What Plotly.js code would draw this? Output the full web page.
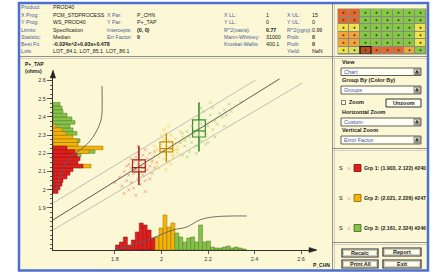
<!DOCTYPE html>
<html><head><meta charset="utf-8">
<script src="https://cdn.plot.ly/plotly-3.0.1.min.js"></script>
<style>html,body{margin:0;padding:0;background:#fff;}#chart{width:434px;height:274px;}</style>
</head><body><div id="chart"></div>
<script>
// ---------------- DATA ----------------
const xTickVals = [1.8, 2, 2.2, 2.4, 2.6];
const xTickText = ['1.8', '2', '2.2', '2.4', '2.6'];
const yTickVals = [1.9, 2, 2.1, 2.2, 2.3, 2.4, 2.5, 2.6];
const yTickText = ['1.9', '2', '2.1', '2.2', '2.3', '2.4', '2.5', '2.6'];

const groupNames = ['Grp 1: (1.903, 2.122) #240', 'Grp 2: (2.021, 2.226) #247', 'Grp 3: (2.161, 2.324) #246'];

// scatter clouds (P_CHN, P+_TAP)
const redX = [1.80,1.82,1.83,1.84,1.85,1.85,1.86,1.86,1.87,1.87,1.88,1.88,1.88,1.89,1.89,1.90,1.90,1.90,1.91,1.91,1.91,1.92,1.92,1.92,1.93,1.93,1.93,1.94,1.94,1.95,1.95,1.96,1.96,1.97,1.97,1.98,1.84,1.87,1.90,1.93,1.86,1.89,1.95,1.91,1.88];
const redY = [2.04,2.07,2.02,2.10,2.05,2.13,2.08,2.00,2.12,2.04,2.15,2.09,2.01,2.11,2.18,2.06,2.14,2.20,2.10,2.16,2.03,2.12,2.19,2.08,2.14,2.22,2.05,2.11,2.17,2.13,2.20,2.09,2.16,2.12,2.21,2.15,1.98,2.17,2.24,1.99,2.14,1.97,2.06,2.13,2.10];
const yelX = [1.96,1.97,1.98,1.98,1.99,2.00,2.00,2.01,2.01,2.02,2.02,2.02,2.03,2.03,2.03,2.04,2.04,2.05,2.05,2.06,2.06,2.07,2.08,2.09,2.10,1.99,2.01,2.04,2.07,2.00,2.03,2.05,2.02,1.97,2.08];
const yelY = [2.15,2.19,2.22,2.13,2.18,2.21,2.25,2.17,2.28,2.20,2.24,2.31,2.16,2.23,2.27,2.21,2.30,2.19,2.25,2.22,2.28,2.24,2.26,2.29,2.27,2.12,2.33,2.14,2.20,2.30,2.35,2.18,2.11,2.24,2.32];
const grnX = [2.07,2.08,2.09,2.10,2.10,2.11,2.12,2.12,2.13,2.13,2.14,2.14,2.15,2.15,2.16,2.16,2.17,2.17,2.18,2.18,2.19,2.19,2.20,2.20,2.21,2.22,2.22,2.23,2.24,2.25,2.26,2.27,2.28,2.29,2.30,2.32,2.34,2.11,2.15,2.19,2.23,2.27,2.17,2.21,2.09];
const grnY = [2.22,2.26,2.19,2.28,2.24,2.32,2.21,2.29,2.35,2.26,2.31,2.38,2.24,2.33,2.29,2.40,2.27,2.36,2.32,2.43,2.30,2.38,2.35,2.26,2.41,2.33,2.45,2.38,2.36,2.42,2.40,2.44,2.41,2.47,2.43,2.46,2.48,2.18,2.20,2.25,2.29,2.35,2.45,2.48,2.31];

// box statistics per group
const boxX      = [1.903, 2.021, 2.161];
const boxQ1     = [2.098, 2.208, 2.290];
const boxMedian = [2.122, 2.226, 2.324];
const boxQ3     = [2.164, 2.263, 2.384];
const boxLow    = [2.026, 2.153, 2.210];
const boxHigh   = [2.240, 2.307, 2.480];

// best fit line and bands
const fitX = [1.534, 2.507];   const fitY = [1.834, 2.609];
const upX  = [1.534, 2.404];   const upY  = [1.927, 2.603];
const loX  = [1.534, 2.606];   const loY  = [1.779, 2.587];

// Y histogram (P+_TAP), counts per bin
const yHistBins = [1.99,2.01,2.03,2.05,2.07,2.09,2.11,2.13,2.15,2.17,2.19,2.21,2.23,2.25,2.27,2.29,2.31,2.33,2.35,2.37,2.39,2.41,2.43,2.45,2.47];
const yHistRed  = [5,7,9,10,14,17,20,30,25,27,24,22,14,0,0,0,0,0,0,0,0,0,0,0,0];
const yHistYel  = [0,0,0,0,0,0,0,38,0,0,0,36,50,25,24,20,13,9,3,0,0,0,0,0,0];
const yHistGrn  = [0,0,0,0,0,0,0,0,0,0,28,42,20,25,27,19,24,20,17,22,19,14,10,9,7];
// cumulative curve for Y histogram
const yCdfCount = [49,49,48,46,42,37,31,24,17,11,7,4];
const yCdfY     = [2.570,2.427,2.384,2.351,2.307,2.268,2.235,2.208,2.175,2.131,2.076,2.010];

// X histogram (P_CHN), counts per bin
const xHistRedBins = [1.811,1.828,1.845,1.862,1.879,1.896,1.913,1.930,1.947,1.964];
const xHistRed     = [5,8,13,5,10,18,27,25,20,12];
const xHistYelBins = [1.981,1.998,2.015,2.032,2.049];
const xHistYel     = [13,22,35,23,27];
const xHistGrnBins = [2.066,2.083,2.100,2.117,2.134,2.151,2.168,2.185,2.202,2.219,2.236,2.253,2.270,2.287,2.304,2.321,2.338,2.355];
const xHistGrn     = [17,13,8,12,13,8,25,8,9,3,2,2,3,4,2,3,2,1];
// cumulative curve for X histogram
const xCdfX     = [1.800,1.877,1.963,2.049,2.109,2.164,2.220,2.306,2.366];
const xCdfCount = [0,5,12,20,23,30,33,34,34];

// wafer map codes: 0 orange-red,1 orange,2 yellow,3 green,4 dark red,5 light yellow
const waferCodes = [
  [0,0,3,3,3,3,3,3],
  [0,0,3,3,3,3,3,3],
  [2,2,3,3,3,3,3,2],
  [1,1,3,3,3,3,3,2],
  [1,1,3,3,3,3,3,2],
  [2,5,4,0,0,0,1,3]
];

// header info
const headerRows = [
  ['Product:', 'PROD40', '', '', '', '', '', ''],
  ['X Prog:', 'PCM_STDPROCESS', 'X Par:', 'P_CHN', 'X LL:', '1', 'X UL:', '15'],
  ['Y Prog:', 'WS_PROD40', 'Y Par:', 'P+_TAP', 'Y LL:', '0', 'Y UL:', '0'],
  ['Limits:', 'Specification', 'Intercepts:', '<b>(0, 0)</b>', 'R^2(xaxis):', '<b>0.77</b>', 'R^2(ygrp):', '0.99'],
  ['Statistic:', 'Median', 'Err Factor:', '<b>0</b>', 'Mann-Whitney:', '31000', 'Prob:', '<b>0</b>'],
  ['Best Fit:', '<b>-0.024x^2+0.93x+0.478</b>', '', '', 'Kruskal-Wallis:', '400.1', 'Prob:', '<b>0</b>'],
  ['Lots:', 'LOT_84.1, LOT_85.1, LOT_86.1', '', '', '', '', 'Yield:', 'NaN']
];

// ---------------- STYLE ----------------
const W = 434, H = 274;
const F = 'Liberation Sans, Arial, sans-serif';
const RED = '#e01e1e', RED_D = '#8a1010';
const YEL = '#f2b40a', YEL_D = '#9a6c00';
const GRN = '#86c24a', GRN_D = '#4a7a22';
const CREAM = '#fcf8d6';
const X0 = 53, X1 = 316, YB = 250, YT = 72;

const traces = [];
function nz(bins, vals) { const b = [], v = []; bins.forEach((p, i) => { if (vals[i] > 0) { b.push(p); v.push(vals[i]); } }); return [b, v]; }

// regression lines
traces.push({type:'scatter', mode:'lines', x:upX, y:upY, line:{color:'#b8b8b0', width:0.9}, hoverinfo:'skip'});
traces.push({type:'scatter', mode:'lines', x:loX, y:loY, line:{color:'#b8b8b0', width:0.9}, hoverinfo:'skip'});
traces.push({type:'scatter', mode:'lines', x:fitX, y:fitY, line:{color:'#5a5a5a', width:1}, hoverinfo:'skip'});

// scatter clouds
[[redX, redY, 'rgba(232,90,70,0.5)'], [yelX, yelY, 'rgba(245,190,50,0.55)'], [grnX, grnY, 'rgba(130,200,90,0.55)']].forEach(([x, y, c]) => {
  traces.push({type:'scatter', mode:'markers', x, y, marker:{symbol:'x-thin', size:3, line:{color:c, width:0.9}}, hoverinfo:'skip'});
});

// whiskers & boxes
const boxCol = ['#a41c1c', '#c08a00', '#3c8a30'];
boxX.forEach((bx, i) => {
  traces.push({type:'scatter', mode:'lines', x:[bx, bx], y:[boxLow[i], boxHigh[i]], line:{color:boxCol[i], width:1}, hoverinfo:'skip'});
  traces.push({type:'box', x:[bx], q1:[boxQ1[i]], median:[boxMedian[i]], q3:[boxQ3[i]], lowerfence:[boxLow[i]], upperfence:[boxHigh[i]],
    width:0.055, whiskerwidth:0, line:{color:boxCol[i], width:1.2}, fillcolor:'rgba(0,0,0,0)', boxpoints:false, hoverinfo:'skip'});
});

// Y histogram on x2
[[yHistGrn, GRN, GRN_D], [yHistYel, YEL, YEL_D], [yHistRed, RED, RED_D]].forEach(([v, c, d]) => {
  const [b, vv] = nz(yHistBins, v);
  traces.push({type:'bar', orientation:'h', y:b, x:vv, xaxis:'x2', yaxis:'y', width:0.02, marker:{color:c, line:{color:d, width:0.5}}, hoverinfo:'skip'});
});
traces.push({type:'scatter', mode:'lines', x:yCdfCount, y:yCdfY, xaxis:'x2', yaxis:'y', line:{color:'#606060', width:0.9, shape:'spline'}, hoverinfo:'skip'});

// X histogram on y2
[[xHistRedBins, xHistRed, RED, RED_D], [xHistYelBins, xHistYel, YEL, YEL_D], [xHistGrnBins, xHistGrn, GRN, GRN_D]].forEach(([b, v, c, d]) => {
  traces.push({type:'bar', x:b, y:v, xaxis:'x', yaxis:'y2', width:0.017, marker:{color:c, line:{color:d, width:0.5}}, hoverinfo:'skip'});
});
traces.push({type:'scatter', mode:'lines', x:xCdfX, y:xCdfCount, xaxis:'x', yaxis:'y2', line:{color:'#606060', width:0.9, shape:'spline'}, hoverinfo:'skip'});

// wafer map
const wcols = ['#e8662c', '#f4a43a', '#f0e24a', '#84c843', '#c44a18', '#d8e060'];
const cs = []; wcols.forEach((c, i) => { cs.push([i / 6, c]); cs.push([(i + 1) / 6, c]); });
traces.push({type:'heatmap', z:waferCodes, xaxis:'x3', yaxis:'y3', colorscale:cs, zmin:-0.5, zmax:5.5, showscale:false, xgap:1, ygap:1, hoverinfo:'skip'});
const dx = [], dy = [];
waferCodes.forEach((row, r) => row.forEach((_, c) => { dx.push(c); dy.push(r); }));
traces.push({type:'scatter', mode:'markers', x:dx, y:dy, xaxis:'x3', yaxis:'y3', marker:{size:2, color:'#2a4a1a'}, hoverinfo:'skip'});

// ---------------- SHAPES ----------------
const shapes = [];
const R = (x0, y0, x1, y1, fill, lc, lw, layer) => shapes.push({type:'rect', xref:'paper', yref:'paper', x0:x0 / W, x1:x1 / W, y0:1 - y1 / H, y1:1 - y0 / H,
  fillcolor:fill || 'rgba(0,0,0,0)', line:{color:lc || 'rgba(0,0,0,0)', width:lw || 0}, layer:layer || 'above'});
const L = (x0, y0, x1, y1, c, w) => shapes.push({type:'line', xref:'paper', yref:'paper', x0:x0 / W, x1:x1 / W, y0:1 - y0 / H, y1:1 - y1 / H, line:{color:c, width:w}, layer:'above'});
const P = (pts, fill) => shapes.push({type:'path', xref:'paper', yref:'paper', path:pts.map((p, i) => (i ? 'L' : 'M') + (p[0] / W) + ',' + (1 - p[1] / H)).join(' ') + ' Z', fillcolor:fill, line:{color:fill, width:0.5}, layer:'above'});

R(19, 3, 428, 270, CREAM, null, 0, 'below');
R(337.5, 8.5, 426.5, 54.5, '#8a8a80', null, 0, 'below');
// dividers
L(19, 56.5, 428, 56.5, '#8e8e8a', 1); L(19, 58.5, 428, 58.5, '#cfcfc4', 1);
L(332.5, 3, 332.5, 270, '#8e8e8a', 1); L(334.5, 3, 334.5, 270, '#cfcfc4', 1);
L(333, 148.5, 428, 148.5, '#8e8e8a', 1); L(333, 150.5, 428, 150.5, '#cfcfc4', 1);
L(333, 242.5, 428, 242.5, '#8e8e8a', 1); L(333, 244.5, 428, 244.5, '#cfcfc4', 1);
// frame
R(19, 3, 428, 270.5, null, '#4d6fd2', 2.5);
// axis arrows
P([[X0, 70], [X0 - 2.6, 78], [X0 + 2.6, 78]], '#222');
P([[X1 + 1, YB], [X1 - 7, YB - 2.6], [X1 - 7, YB + 2.6]], '#222');
// selected wafer cell
shapes.push({type:'rect', xref:'x3', yref:'y3', x0:1.5, x1:2.5, y0:4.5, y1:5.5, line:{color:'#111', width:1.2}, layer:'above'});
// dropdowns
[[68, 75.5], [86, 94], [118, 126], [136, 144]].forEach(([a, b]) => {
  R(341, a, 421, b, '#fffef2', '#3a3a3a', 0.8);
  R(414, a + 1, 420, b - 1, '#ece8d6', '#3a3a3a', 0.6);
  P([[415.3, a + 4.6], [417, a + 2.2], [418.7, a + 4.6]], '#222');
  L(415.3, b - 2.2, 418.7, b - 2.2, '#222', 0.7);
});
// checkbox & unzoom
R(341.5, 100.5, 345.5, 104.5, '#ffffff', '#444', 0.7);
R(386, 99, 421, 107, '#fffef2', '#333', 1);
// legend swatches
[[RED, '#7a1010'], [YEL, '#8a6000'], [GRN, '#3a6a1a']].forEach(([c, d], i) => {
  const yc = 168 + 30 * i;
  R(354, yc - 3.5, 361, yc + 3.5, c, d, 0.8);
});
// buttons
[[342, 249, 378, 257], [383, 248, 421, 256], [342, 260, 378, 268], [383, 260, 421, 268]].forEach(([a, b, c, d]) => {
  R(a, b, c, d, '#fffce8', '#2a2a2a', 1.2);
  R(a + 1.5, b + 1.5, c - 1.5, d - 1.5, null, '#9a9a90', 0.5);
});

// ---------------- ANNOTATIONS ----------------
const anns = [];
const A = (x, y, t, o = {}) => { const a = {xref:'paper', yref:'paper', x:x / W, y:1 - y / H, text:t, showarrow:false, xanchor:o.xa || 'left', yanchor:'middle',
  font:{family:F, size:o.s || 5.5, color:o.c || '#1a1a1a'}, align:o.xa === 'center' ? 'center' : 'left', borderpad:0};
  if (o.w) a.width = o.w; anns.push(a); };

const hdrY = [7.5, 15, 22.3, 29.5, 36.5, 43.6, 50.7];
const hdrX = [20, 52, 106, 136, 223, 265, 286, 311];
headerRows.forEach((row, r) => row.forEach((t, c) => {
  if (!t) return;
  A(hdrX[c], hdrY[r], t, {c: c % 2 === 0 ? '#4a5a9e' : '#1a1a1a', s:5.3});
}));

// axis titles
A(24, 64, '<b>P+_TAP</b>', {s:5});
A(24, 70.5, '<b>(ohms)</b>', {s:5});
A(312, 265, '<b>P_CHN</b>', {s:5});

// right panel
A(341, 62, '<b>View</b>'); A(343, 72, 'Chart', {c:'#3a58b4'});
A(341, 80.5, '<b>Group By (Color By)</b>'); A(343, 90, 'Groups', {c:'#3a58b4'});
A(347.5, 102.5, '<b>Zoom</b>'); A(403.5, 103, '<b>Unzoom</b>', {xa:'center'});
A(341, 111.5, '<b>Horizontal Zoom</b>'); A(343, 122, 'Custom', {c:'#3a58b4'});
A(341, 129.5, '<b>Vertical Zoom</b>'); A(343, 140, 'Error Factor', {c:'#3a58b4'});
groupNames.forEach((g, i) => {
  const yc = 168 + 30 * i;
  A(337.5, yc, 'S', {s:5.5});
  A(346, yc, '×', {s:7, c:'#f0a8a8'});
  A(363, yc, '<b>' + g + '</b>', {s:5.2, w:64});
});
A(360, 253, '<b>Recalc</b>', {xa:'center'});
A(402, 252, '<b>Report</b>', {xa:'center'});
A(360, 264, '<b>Print All</b>', {xa:'center'});
A(402, 264, '<b>Exit</b>', {xa:'center'});

// ---------------- LAYOUT ----------------
const layout = {
  width:W, height:H, margin:{l:0, r:0, t:0, b:0}, paper_bgcolor:'#ffffff', plot_bgcolor:'rgba(0,0,0,0)',
  showlegend:false, barmode:'overlay', boxmode:'overlay', font:{family:F},
  xaxis:{domain:[X0 / W, X1 / W], range:[1.534, 2.664], anchor:'y', showline:true, linecolor:'#333', linewidth:1,
    ticks:'outside', ticklen:3, tickcolor:'#333', tickwidth:0.8, tickmode:'array', tickvals:xTickVals, ticktext:xTickText,
    tickfont:{size:5.5, color:'#333', family:F}, showgrid:false, zeroline:false},
  yaxis:{domain:[1 - YB / H, 1 - YT / H], range:[1.669, 2.647], anchor:'x', showline:true, linecolor:'#333', linewidth:1,
    ticks:'outside', ticklen:5, tickcolor:'#333', tickwidth:0.8, tickmode:'array', tickvals:yTickVals, ticktext:yTickText,
    tickfont:{size:5.5, color:'#333', family:F}, showgrid:false, zeroline:false,
    minor:{tickmode:'linear', tick0:1.9, dtick:0.025, ticks:'outside', ticklen:2.5, tickcolor:'#333', showgrid:false}},
  xaxis2:{overlaying:'x', anchor:'y', range:[0, X1 - X0], visible:false},
  yaxis2:{overlaying:'y', anchor:'x', range:[0, YB - YT], visible:false},
  xaxis3:{domain:[338 / W, 426 / W], anchor:'y3', range:[-0.5, 7.5], visible:false},
  yaxis3:{domain:[1 - 54 / H, 1 - 9 / H], anchor:'x3', range:[5.5, -0.5], visible:false},
  shapes, annotations:anns
};
Plotly.newPlot('chart', traces, layout, {staticPlot:true, displayModeBar:false});
</script></body></html>
